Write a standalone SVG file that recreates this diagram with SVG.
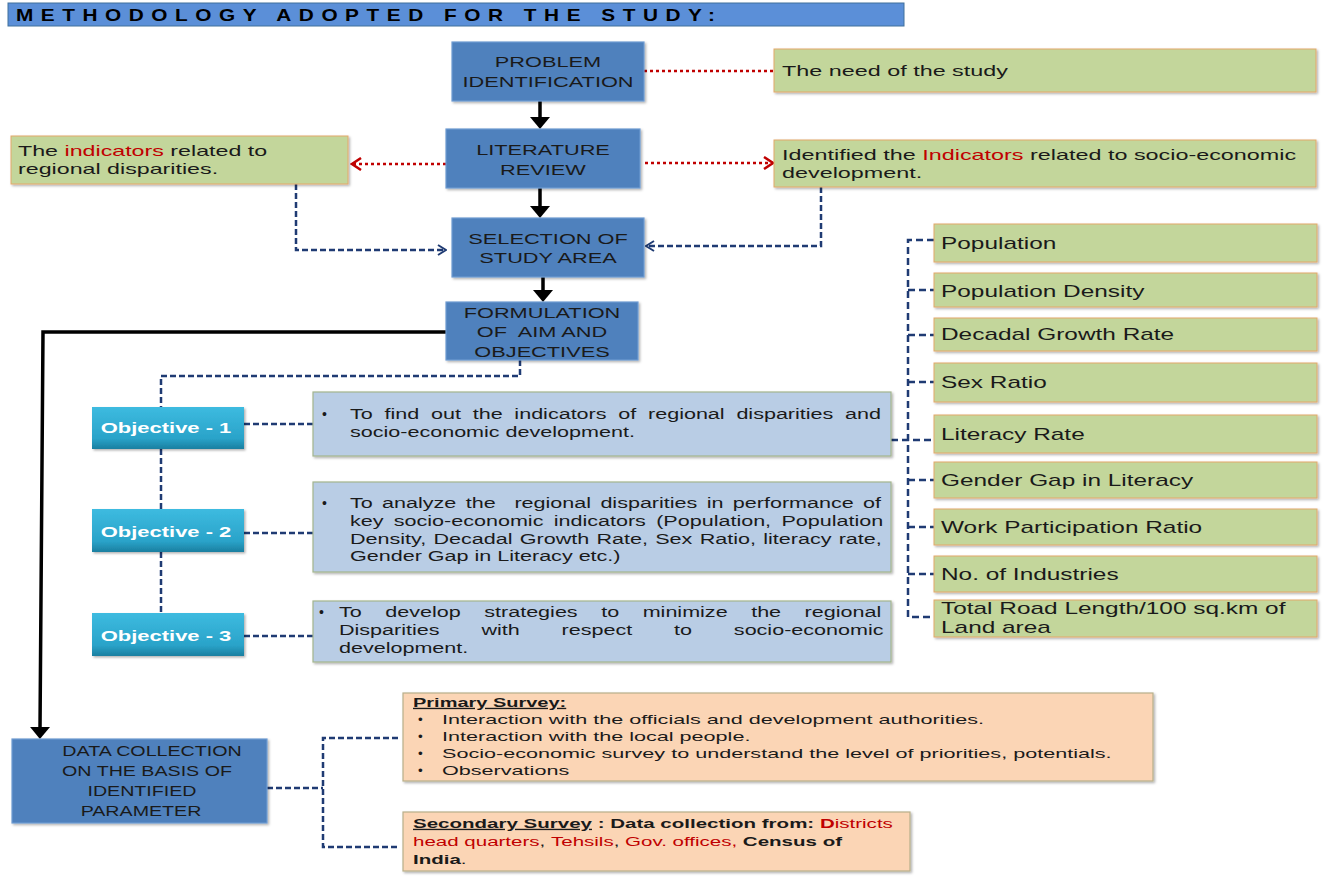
<svg xmlns="http://www.w3.org/2000/svg" width="1325" height="878" viewBox="0 0 1325 878">
<defs>
<style>
.t{font-family:"Liberation Sans",Arial,sans-serif;fill:#1a1a1a}
.bt{font-size:15px;text-anchor:middle}
.g14{font-size:14px}
.ind{font-size:16px}
.sv{font-size:13.5px}
.ob{font-size:14px;font-weight:bold;fill:#fff;text-anchor:middle}
.red{fill:#C00000}
.b{font-weight:bold}
.u{text-decoration:underline}
.blue{fill:#4F81BD;stroke:#6F9BD1;stroke-width:1.2;filter:url(#sh)}
.green{fill:#C3D69B;stroke:#E3A86A;stroke-width:1;filter:url(#sh)}
.desc{fill:#B9CDE5;stroke:#A3B58E;stroke-width:1.2;filter:url(#sh)}
.peach{fill:#FBD5B5;stroke:#B8B08A;stroke-width:1.2;filter:url(#sh)}
.obj{fill:url(#objG);filter:url(#sh)}
.dotR{fill:none;stroke:#C00000;stroke-width:2.5;stroke-dasharray:3 3}
.dashN{fill:none;stroke:#1F3B73;stroke-width:2.5;stroke-dasharray:6 3}
.dashI{fill:none;stroke:#1F3B73;stroke-width:2.5;stroke-dasharray:7 4}
.blk{fill:none;stroke:#000;stroke-width:3.5}
</style>
<filter id="sh" x="-5%" y="-10%" width="115%" height="130%">
<feDropShadow dx="1.5" dy="1.5" stdDeviation="1" flood-color="#000" flood-opacity="0.3"/>
</filter>
<linearGradient id="objG" x1="0" y1="0" x2="0" y2="1">
<stop offset="0" stop-color="#3DBBE0"/>
<stop offset="0.75" stop-color="#2AA3C9"/>
<stop offset="1" stop-color="#1A7FA0"/>
</linearGradient>
<marker id="ahB" markerUnits="userSpaceOnUse" markerWidth="12" markerHeight="20" viewBox="0 0 12 20" refX="2" refY="10" orient="auto">
<path d="M0,0 L12,10 L0,20 z" fill="#000"/>
</marker>
<marker id="ahR" markerUnits="userSpaceOnUse" markerWidth="12" markerHeight="14" viewBox="0 0 12 14" refX="10" refY="7" orient="auto">
<path d="M1,1 L10,7 L1,13" fill="none" stroke="#C00000" stroke-width="2.5"/>
</marker>
<marker id="ahN" markerUnits="userSpaceOnUse" markerWidth="10" markerHeight="12" viewBox="0 0 10 12" refX="9" refY="6" orient="auto">
<path d="M1,1 L9,6 L1,11" fill="none" stroke="#1F3B73" stroke-width="2"/>
</marker>
</defs>
<rect width="1325" height="878" fill="#fff"/>

<g id="title">
<rect x="8" y="3" width="896" height="23" fill="#5B8FD8" stroke="#41719C" stroke-width="1"/>
<text class="t b" transform="matrix(1.3 0 0 1 16 0)" x="0" y="21" style="font-size:16px;letter-spacing:5.8px;fill:#000">METHODOLOGY ADOPTED FOR THE STUDY:</text>
</g>

<g id="connectors">
<line class="blk" x1="540" y1="101" x2="540" y2="119" marker-end="url(#ahB)"/>
<line class="blk" x1="540" y1="188" x2="540" y2="208" marker-end="url(#ahB)"/>
<line class="blk" x1="543" y1="277" x2="543" y2="292" marker-end="url(#ahB)"/>
<path class="blk" d="M446,332 H43 L40,729" marker-end="url(#ahB)"/>
<line class="dotR" x1="644" y1="71" x2="774" y2="71"/>
<line class="dotR" x1="446" y1="164" x2="352" y2="164" marker-end="url(#ahR)"/>
<line class="dotR" x1="645" y1="163" x2="773" y2="163" marker-end="url(#ahR)"/>
<path class="dashN" d="M296,184 V250 H446" marker-end="url(#ahN)"/>
<path class="dashN" d="M821,187 V246 H646" marker-end="url(#ahN)"/>
<path class="dashN" d="M520,360 V376 H161 V407"/>
<line class="dashN" x1="161" y1="449" x2="161" y2="509"/>
<line class="dashN" x1="161" y1="552" x2="161" y2="613"/>
<line class="dashN" x1="244" y1="424" x2="313" y2="424"/>
<line class="dashN" x1="244" y1="533" x2="313" y2="533"/>
<line class="dashN" x1="244" y1="636" x2="313" y2="636"/>
<path class="dashI" d="M934,240 H908 V617 H934"/>
<line class="dashI" x1="908" y1="290" x2="934" y2="290"/>
<line class="dashI" x1="908" y1="335" x2="934" y2="335"/>
<line class="dashI" x1="908" y1="382" x2="934" y2="382"/>
<line class="dashI" x1="891" y1="440" x2="934" y2="440"/>
<line class="dashI" x1="908" y1="480" x2="934" y2="480"/>
<line class="dashI" x1="908" y1="527" x2="934" y2="527"/>
<line class="dashI" x1="908" y1="574" x2="934" y2="574"/>
<line class="dashN" x1="267" y1="788" x2="323" y2="788"/>
<path class="dashN" d="M398,738 H323 V847 H398"/>
</g>

<g id="n-problem">
<rect class="blue" x="452" y="42" width="192" height="59"/>
<g transform="matrix(1.45 0 0 1 548 0)">
<text class="t bt" x="0" y="67">PROBLEM</text>
<text class="t bt" x="0" y="87">IDENTIFICATION</text>
</g>
</g>
<g id="n-literature">
<rect class="blue" x="446" y="129" width="194" height="59"/>
<g transform="matrix(1.45 0 0 1 543 0)">
<text class="t bt" x="0" y="155">LITERATURE</text>
<text class="t bt" x="0" y="175">REVIEW</text>
</g>
</g>
<g id="n-selection">
<rect class="blue" x="452" y="218" width="192" height="59"/>
<g transform="matrix(1.45 0 0 1 548 0)">
<text class="t bt" x="0" y="244">SELECTION OF</text>
<text class="t bt" x="0" y="263">STUDY AREA</text>
</g>
</g>
<g id="n-formulation">
<rect class="blue" x="446" y="302" width="192" height="58"/>
<g transform="matrix(1.45 0 0 1 542 0)">
<text class="t bt" x="0" y="318">FORMULATION</text>
<text class="t bt" x="0" y="337" xml:space="preserve">OF  AIM AND</text>
<text class="t bt" x="0" y="357">OBJECTIVES</text>
</g>
</g>

<g id="n-need">
<rect class="green" x="774" y="49" width="542" height="43"/>
<text class="t g14" transform="matrix(1.67 0 0 1 782 0)" x="0" y="76">The need of the study</text>
</g>
<g id="n-indicators-left">
<rect class="green" x="11" y="136" width="337" height="48"/>
<g transform="matrix(1.66 0 0 1 18 0)">
<text class="t g14" x="0" y="156">The <tspan class="red">indicators</tspan> related to</text>
<text class="t g14" x="0" y="174">regional disparities.</text>
</g>
</g>
<g id="n-indicators-right">
<rect class="green" x="774" y="140" width="542" height="47"/>
<g transform="matrix(1.67 0 0 1 782 0)">
<text class="t g14" x="0" y="160">Identified the <tspan class="red">Indicators</tspan> related to socio-economic</text>
<text class="t g14" x="0" y="178">development.</text>
</g>
</g>

<g id="n-ind-population"><rect class="green" x="934" y="224" width="383" height="38"/><text class="t ind" transform="matrix(1.525 0 0 1 941 0)" x="0" y="249">Population</text></g>
<g id="n-ind-density"><rect class="green" x="934" y="273" width="383" height="34"/><text class="t ind" transform="matrix(1.525 0 0 1 941 0)" x="0" y="297">Population Density</text></g>
<g id="n-ind-decadal"><rect class="green" x="934" y="318" width="383" height="33"/><text class="t ind" transform="matrix(1.525 0 0 1 941 0)" x="0" y="340">Decadal Growth Rate</text></g>
<g id="n-ind-sex"><rect class="green" x="934" y="363" width="383" height="39"/><text class="t ind" transform="matrix(1.525 0 0 1 941 0)" x="0" y="388">Sex Ratio</text></g>
<g id="n-ind-literacy"><rect class="green" x="934" y="415" width="383" height="38"/><text class="t ind" transform="matrix(1.525 0 0 1 941 0)" x="0" y="440">Literacy Rate</text></g>
<g id="n-ind-gender"><rect class="green" x="934" y="462" width="383" height="36"/><text class="t ind" transform="matrix(1.525 0 0 1 941 0)" x="0" y="486">Gender Gap in Literacy</text></g>
<g id="n-ind-work"><rect class="green" x="934" y="509" width="383" height="36"/><text class="t ind" transform="matrix(1.525 0 0 1 941 0)" x="0" y="533">Work Participation Ratio</text></g>
<g id="n-ind-industries"><rect class="green" x="934" y="556" width="383" height="36"/><text class="t ind" transform="matrix(1.525 0 0 1 941 0)" x="0" y="580">No. of Industries</text></g>
<g id="n-ind-road"><rect class="green" x="934" y="600" width="383" height="37"/>
<g transform="matrix(1.525 0 0 1 941 0)">
<text class="t ind" x="0" y="614">Total Road Length/100 sq.km of</text>
<text class="t ind" x="0" y="633">Land area</text>
</g>
</g>

<g id="n-obj1"><rect class="obj" x="92" y="407" width="152" height="42"/><text class="t ob" transform="matrix(1.57 0 0 1 166 0)" x="0" y="433">Objective - 1</text></g>
<g id="n-obj2"><rect class="obj" x="92" y="509" width="152" height="43"/><text class="t ob" transform="matrix(1.57 0 0 1 166 0)" x="0" y="537">Objective - 2</text></g>
<g id="n-obj3"><rect class="obj" x="92" y="613" width="152" height="43"/><text class="t ob" transform="matrix(1.57 0 0 1 166 0)" x="0" y="641">Objective - 3</text></g>

<g id="n-desc1">
<rect class="desc" x="313" y="392" width="578" height="64"/>
<text class="t g14" x="322" y="419">•</text>
<g transform="matrix(1.54 0 0 1 350 0)">
<text class="t g14" x="0" y="419" word-spacing="3.75">To find out the indicators of regional disparities and</text>
<text class="t g14" x="0" y="437">socio-economic development.</text>
</g>
</g>
<g id="n-desc2">
<rect class="desc" x="313" y="482" width="578" height="90"/>
<text class="t g14" x="322" y="508">•</text>
<g transform="matrix(1.54 0 0 1 350 0)">
<text class="t g14" x="0" y="508" word-spacing="2.2" xml:space="preserve">To analyze the  regional disparities in performance of</text>
<text class="t g14" x="0" y="526" word-spacing="2.8">key socio-economic indicators (Population, Population</text>
<text class="t g14" x="0" y="544" word-spacing="0.85">Density, Decadal Growth Rate, Sex Ratio, literacy rate,</text>
<text class="t g14" x="0" y="561">Gender Gap in Literacy etc.)</text>
</g>
</g>
<g id="n-desc3">
<rect class="desc" x="313" y="601" width="578" height="61"/>
<text class="t g14" x="319" y="617">•</text>
<g transform="matrix(1.54 0 0 1 339 0)">
<text class="t g14" x="0" y="617" word-spacing="11.4">To develop strategies to minimize the regional</text>
<text class="t g14" x="0" y="635" word-spacing="23.3">Disparities with respect to socio-economic</text>
<text class="t g14" x="0" y="653">development.</text>
</g>
</g>

<g id="n-data">
<rect class="blue" x="12" y="739" width="255" height="84"/>
<text class="t bt" transform="matrix(1.31 0 0 1 152 0)" x="0" y="756">DATA COLLECTION</text>
<text class="t bt" transform="matrix(1.31 0 0 1 147 0)" x="0" y="776">ON THE BASIS OF</text>
<text class="t bt" transform="matrix(1.31 0 0 1 142 0)" x="0" y="796">IDENTIFIED</text>
<text class="t bt" transform="matrix(1.31 0 0 1 141 0)" x="0" y="816">PARAMETER</text>
</g>

<g id="n-primary">
<rect class="peach" x="403" y="693" width="750" height="88"/>
<text class="t sv b u" transform="matrix(1.48 0 0 1 413 0)" x="0" y="707">Primary Survey:</text>
<text class="t sv" x="418" y="724">•</text>
<text class="t sv" x="418" y="741">•</text>
<text class="t sv" x="418" y="758">•</text>
<text class="t sv" x="418" y="775">•</text>
<g transform="matrix(1.6 0 0 1 442 0)">
<text class="t sv" x="0" y="724">Interaction with the officials and development authorities.</text>
<text class="t sv" x="0" y="741">Interaction with the local people.</text>
<text class="t sv" x="0" y="758">Socio-economic survey to understand the level of priorities, potentials.</text>
<text class="t sv" x="0" y="775">Observations</text>
</g>
</g>
<g id="n-secondary">
<rect class="peach" x="403" y="812" width="507" height="59"/>
<g transform="matrix(1.52 0 0 1 413 0)">
<text class="t sv" x="0" y="828"><tspan class="b u">Secondary Survey</tspan><tspan class="b"> : Data collection from: </tspan><tspan class="b red">D</tspan><tspan class="red">istricts</tspan></text>
<text class="t sv" x="0" y="846"><tspan class="red">head quarters</tspan>, <tspan class="red">Tehsils</tspan>, <tspan class="red">Gov. offices,</tspan><tspan class="b"> Census of</tspan></text>
<text class="t sv" x="0" y="864"><tspan class="b">India</tspan>.</text>
</g>
</g>
</svg>
